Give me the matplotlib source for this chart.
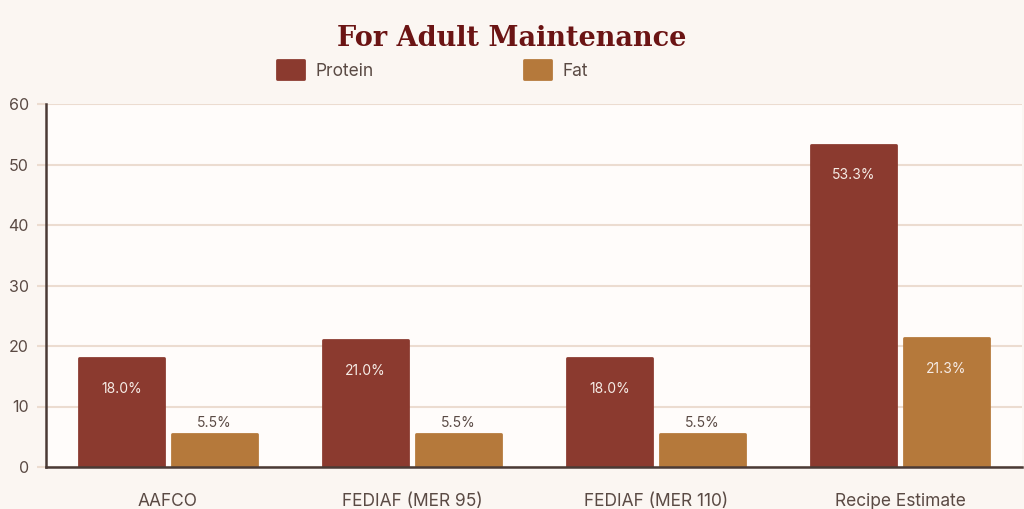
import numpy as np
import matplotlib.pyplot as plt

plt.rcParams['font.family'] = ['Inter', 'DejaVu Sans']

categories = ['AAFCO', 'FEDIAF (MER 95)', 'FEDIAF (MER 110)', 'Recipe Estimate']
protein = [18.0, 21.0, 18.0, 53.3]
fat = [5.5, 5.5, 5.5, 21.3]

c_protein = '#8b3a2f'
c_fat = '#b5793b'
txt = '#5a4a44'

fig = plt.figure(figsize=(10.24, 5.09), dpi=100, facecolor='#fbf6f2')
ax = fig.add_axes([46/1024, 1 - 467/509, 976/1024, 363/509])
ax.set_facecolor('#fffcfa')

x = np.arange(len(categories))
w = 0.35
off = 0.19

b1 = ax.bar(x - off, protein, w, color=c_protein, edgecolor=c_protein,
            linewidth=2, joinstyle='round', label='Protein', zorder=3)
b2 = ax.bar(x + off, fat, w, color=c_fat, edgecolor=c_fat,
            linewidth=2, joinstyle='round', label='Fat', zorder=3)

# labels: inside near the top if the bar is tall, else above it
for bars, vals in [(b1, protein), (b2, fat)]:
    for b, v in zip(bars, vals):
        cx = b.get_x() + b.get_width() / 2
        if v > 10:
            ax.annotate(f'{v:.1f}%', (cx, v), xytext=(0, -22), textcoords='offset points',
                        ha='center', va='center', fontsize=10, color='#f6ece6', zorder=4)
        else:
            ax.annotate(f'{v:.1f}%', (cx, v), xytext=(0, 8), textcoords='offset points',
                        ha='center', va='center', fontsize=10, color=txt, zorder=4)

ax.set_xlim(-0.5, 3.5)
ax.set_ylim(0, 60)
ax.set_yticks(range(0, 61, 10))
ax.set_xticks(x)
ax.set_xticklabels(categories)
ax.tick_params(axis='x', length=0, pad=19, labelsize=12.5, labelcolor=txt)
ax.tick_params(axis='y', length=6.5, width=1.5, color='#ecdcd0', pad=6,
               labelsize=11.5, labelcolor=txt)
ax.grid(axis='y', color='#ecdcd0', linewidth=1.5, zorder=0)
ax.set_axisbelow(True)

for s in ['top', 'right']:
    ax.spines[s].set_visible(False)
for s in ['left', 'bottom']:
    ax.spines[s].set_color('#4a3a35')
    ax.spines[s].set_linewidth(1.8)
    ax.spines[s].set_zorder(5)

fig.text(512/1024, 1 - 38/509, 'For Adult Maintenance', ha='center', va='center',
         fontsize=19.5, fontweight='bold', color='#6b1414', family='DejaVu Serif')

leg = fig.legend(loc='center left', bbox_to_anchor=(270/1024, 1 - 70/509), ncol=2,
                 frameon=False, fontsize=12.5, labelcolor=txt, handlelength=1.55,
                 handleheight=1.3, handletextpad=0.65, columnspacing=8.7, borderaxespad=0)
for p in leg.get_patches():
    p.set_joinstyle('round')
    p.set_linewidth(2)

fig.savefig('out.png', dpi=100, facecolor=fig.get_facecolor())
